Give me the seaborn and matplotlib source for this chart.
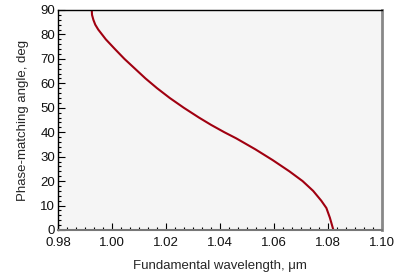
import matplotlib
matplotlib.use("Agg")
import matplotlib.pyplot as plt
from matplotlib.ticker import MultipleLocator, AutoMinorLocator
import pandas as pd
import seaborn as sns

# ==========================================
# Data
# ==========================================
angle_deg = [90, 88, 86, 84, 82, 78, 74, 70, 66, 62, 58, 54, 50, 46, 43,
             40, 37.5, 33, 28.6, 24, 20, 16, 12, 9, 5, 0]
wavelength_um = [0.9925, 0.9926, 0.9931, 0.9938, 0.9949, 0.9977, 1.0011,
                 1.0046, 1.0085, 1.0124, 1.0167, 1.0214, 1.0266, 1.0322,
                 1.0367, 1.0416, 1.0460, 1.0531, 1.0595, 1.0657, 1.0706,
                 1.0745, 1.0775, 1.0794, 1.0807, 1.0820]

df = pd.DataFrame({"wl": wavelength_um, "angle": angle_deg})

# ==========================================
# Style
# ==========================================
sns.set_style("ticks")
plt.rcParams["font.family"] = ["Liberation Sans", "DejaVu Sans"]

fig = plt.figure(figsize=(3.98, 2.76), dpi=100)
ax = fig.add_axes([58 / 398, 1 - 230 / 276, 324 / 398, 220 / 276])
ax.set_facecolor("#f5f5f5")

sns.lineplot(data=df, x="wl", y="angle", sort=False, estimator=None,
             color="#a00010", linewidth=1.5, ax=ax)
ax.lines[0].set_solid_joinstyle("round")

ax.set_xlim(0.98, 1.10)
ax.set_ylim(0, 90)
ax.xaxis.set_major_locator(MultipleLocator(0.02))
ax.xaxis.set_minor_locator(AutoMinorLocator(6))
ax.yaxis.set_major_locator(MultipleLocator(10))
ax.yaxis.set_minor_locator(MultipleLocator(2))
ax.xaxis.set_major_formatter(plt.FormatStrFormatter("%.2f"))

ax.tick_params(which="both", direction="in", labelsize=9.5, color="black",
               labelcolor="#111111")
ax.tick_params(axis="x", pad=5)
ax.tick_params(axis="y", pad=2)
ax.tick_params(which="major", length=5, width=0.8)
ax.tick_params(which="minor", length=2.5, width=0.8)

for side in ["left", "top"]:
    ax.spines[side].set_color("black")
    ax.spines[side].set_linewidth(1)
ax.spines["right"].set_color("#888888")
ax.spines["right"].set_linewidth(2)
ax.spines["bottom"].set_color("#777777")
ax.spines["bottom"].set_linewidth(1.5)

ax.set_xlabel("Fundamental wavelength, μm", fontsize=9.5, labelpad=8)
ax.set_ylabel("Phase-matching angle, deg", fontsize=9.5, labelpad=8)

fig.savefig("out.png", dpi=100)
plt.close()
